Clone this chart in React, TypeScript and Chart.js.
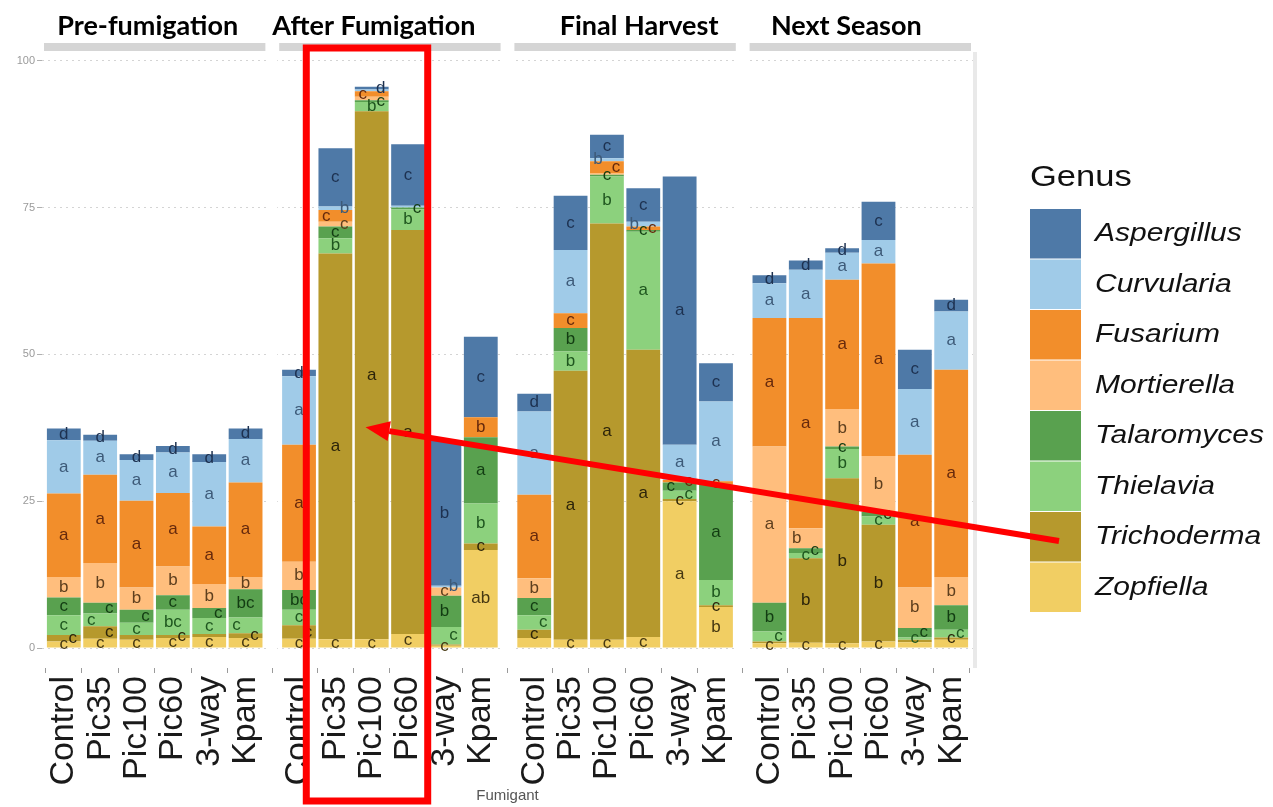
import React, { useEffect, useRef } from "react";
import { Chart, registerables } from "chart.js";

Chart.register(...registerables);

// ---- data -------------------------------------------------------------
const phases = ["Pre-fumigation", "After Fumigation", "Final Harvest", "Next Season"];
const fumigants = ["Control", "Pic35", "Pic100", "Pic60", "3-way", "Kpam"];
const genera = [
  "Aspergillus",
  "Curvularia",
  "Fusarium",
  "Mortierella",
  "Talaromyces",
  "Thielavia",
  "Trichoderma",
  "Zopfiella",
];
const genusColors = [
  "#4e79a7",
  "#a0cbe8",
  "#f28e2b",
  "#ffbe7d",
  "#59a14f",
  "#8cd17d",
  "#b6992d",
  "#f1ce63",
];
const letterColors = [
  "#1d3150",
  "#3d5a78",
  "#66290c",
  "#5e3f1e",
  "#123c12",
  "#1f571f",
  "#2c240a",
  "#463812",
];
const yTickValues = [0, 25, 50, 75, 100];

// relative abundance (%), bars ordered phase by phase: Control, Pic35, Pic100, Pic60, 3-way, Kpam
const aspergillus = [2, 1, 1, 1.1, 1.3, 1.8, 1.1, 9.9, 0.5, 10.5, 24.7, 13.7, 3, 9.2, 4, 5.7, 45.7, 6.5, 1.4, 1.6, 0.8, 6.5, 6.7, 2];
const curvularia = [9.1, 5.8, 6.9, 6.9, 11, 7.4, 11.7, 0.6, 0.3, 0.3, 0.3, 0, 14.2, 10.8, 0.5, 0.8, 6, 13.6, 5.9, 8.2, 4.6, 4, 11.2, 9.9];
const fusarium = [14.2, 15, 14.8, 12.5, 9.8, 16.1, 19.9, 2, 0.9, 0, 0, 3.4, 14.2, 2.5, 2, 0.6, 0.4, 0.6, 21.9, 35.8, 22, 32.8, 22.6, 35.3];
const mortierella = [3.5, 6.8, 3.8, 4.9, 4.1, 2.1, 4.8, 0.8, 0.6, 0, 1.4, 0, 3.4, 0, 0.3, 0, 0, 0, 26.6, 3.4, 6.4, 9.5, 6.9, 4.8];
const talaromyces = [3, 1.8, 2.2, 2.5, 1.7, 4.8, 3.4, 2, 0.3, 0.3, 5.3, 11.3, 2.9, 4, 0.3, 0.3, 1.4, 16.2, 4.9, 0.8, 0.4, 0.8, 1.6, 4.2];
const thielavia = [3.4, 2.2, 2.1, 4.3, 2.7, 2.7, 2.6, 2.6, 1.6, 3.5, 3, 6.8, 2.5, 3.3, 8, 20.1, 1.4, 4.3, 1.7, 0.9, 5, 1.4, 0.4, 1.3];
const trichoderma = [1.1, 2.1, 0.8, 0.5, 0.5, 0.8, 2.3, 65.7, 89.9, 68.8, 0.2, 1.1, 1.4, 45.8, 70.9, 48.9, 0.4, 0.3, 0.3, 14.4, 28.1, 19.9, 0.4, 0.4];
const zopfiella = [1.1, 1.6, 1.4, 1.7, 1.9, 1.7, 1.6, 1.5, 1.5, 2.4, 0.4, 16.7, 1.7, 1.4, 1.4, 1.9, 25, 7, 0.8, 0.9, 0.8, 1.1, 1, 1.4];

// significance letters, same bar order
const aspergillusLetters = ["d", "d", "d", "d", "d", "d", "d", "c", "d", "c", "b", "c", "d", "c", "c", "c", "a", "c", "d", "d", "d", "c", "c", "d"];
const curvulariaLetters = ["a", "a", "a", "a", "a", "a", "a", "b", "", "", "b", "", "a", "a", "b", "b", "a", "a", "a", "a", "a", "a", "a", "a"];
const fusariumLetters = ["a", "a", "a", "a", "a", "a", "a", "c", "c", "", "", "b", "a", "c", "c", "c", "c", "c", "a", "a", "a", "a", "a", "a"];
const mortierellaLetters = ["b", "b", "b", "b", "b", "b", "b", "c", "", "", "c", "", "b", "", "", "", "", "", "a", "b", "b", "b", "b", "b"];
const talaromycesLetters = ["c", "c", "c", "c", "c", "bc", "bc", "c", "c", "c", "b", "a", "c", "b", "c", "c", "c", "a", "b", "c", "c", "c", "c", "b"];
const thielaviaLetters = ["c", "c", "c", "bc", "c", "c", "c", "b", "b", "b", "c", "b", "c", "b", "b", "a", "c", "b", "c", "c", "b", "c", "c", "c"];
const trichodermaLetters = ["c", "c", "", "c", "", "c", "c", "a", "a", "a", "", "c", "c", "a", "a", "a", "c", "c", "", "b", "b", "b", "", "c"];
const zopfiellaLetters = ["c", "c", "c", "c", "c", "c", "c", "c", "c", "c", "c", "ab", "", "c", "c", "c", "a", "b", "c", "c", "c", "c", "", ""];

const seriesValues = [aspergillus, curvularia, fusarium, mortierella, talaromyces, thielavia, trichoderma, zopfiella];
const seriesLetters = [
  aspergillusLetters,
  curvulariaLetters,
  fusariumLetters,
  mortierellaLetters,
  talaromycesLetters,
  thielaviaLetters,
  trichodermaLetters,
  zopfiellaLetters,
];

// ---- facet geometry (in x-axis units) ---------------------------------
const PANEL_SPAN = 6.2; // six bars plus 0.6 expansion each side
const PANEL_EXPAND = 0.6;
const PANEL_GAP = 0.27;
const panelStart = (p: number) => p * (PANEL_SPAN + PANEL_GAP);
const X_MAX = panelStart(phases.length - 1) + PANEL_SPAN;
const barPosition = (k: number) => panelStart(Math.floor(k / fumigants.length)) + PANEL_EXPAND + (k % fumigants.length);
const titleShift = [-7, -16, 14, -14];

const SANS = '"Liberation Sans", Arial, sans-serif';

function drawFacets(chart: any) {
  const { ctx, chartArea } = chart;
  const x = chart.scales.x;
  ctx.save();
  // break the grid between panels
  ctx.fillStyle = "#ffffff";
  for (let p = 0; p < phases.length - 1; p++) {
    const r = x.getPixelForValue(panelStart(p) + PANEL_SPAN);
    const l = x.getPixelForValue(panelStart(p + 1));
    ctx.fillRect(r, chartArea.top - 10, l - r, chartArea.bottom - chartArea.top + 10);
  }
  // thin strip above each panel and its title
  for (let p = 0; p < phases.length; p++) {
    const l = x.getPixelForValue(panelStart(p));
    const r = x.getPixelForValue(panelStart(p) + PANEL_SPAN);
    ctx.fillStyle = "#d5d5d5";
    ctx.fillRect(l + 2, chartArea.top - 9, r - l - 4, 8);
    ctx.fillStyle = "#000000";
    ctx.font = 'bold 27px Lato, "Open Sans", sans-serif';
    ctx.textAlign = "center";
    ctx.textBaseline = "alphabetic";
    ctx.fillText(phases[p], (l + r) / 2 + titleShift[p], 35);
  }
  // faint right border of the last panel
  ctx.fillStyle = "#e9e9e9";
  ctx.fillRect(chartArea.right, chartArea.top, 4, chartArea.bottom - chartArea.top);
  ctx.restore();
}

function drawLetters(chart: any) {
  const { ctx } = chart;
  const nBars = fumigants.length * phases.length;
  ctx.save();
  ctx.font = `17px ${SANS}`;
  ctx.textAlign = "center";
  ctx.textBaseline = "middle";
  for (let k = 0; k < nBars; k++) {
    let lastY = Infinity;
    let lastShift = 0;
    // datasets are stacked bottom-up
    chart.data.datasets.forEach((ds: any, d: number) => {
      const gi = ds.genusIndex;
      const letter = seriesLetters[gi][k];
      if (!letter) return;
      const el = chart.getDatasetMeta(d).data[k];
      const cy = (el.y + el.base) / 2;
      let shift = 0;
      if (Math.abs(cy - lastY) < 13) shift = lastShift > 0 ? -9 : 9;
      ctx.fillStyle = letterColors[gi];
      ctx.fillText(letter, el.x + shift, cy);
      lastY = cy;
      lastShift = shift;
    });
  }
  ctx.restore();
}

const LEGEND = { x: 1030, top: 209, key: 50.5, keyWidth: 51 };

function drawLegend(chart: any) {
  const { ctx } = chart;
  ctx.save();
  ctx.fillStyle = "#111111";
  ctx.textBaseline = "middle";
  ctx.textAlign = "left";
  ctx.save();
  ctx.translate(LEGEND.x, 178);
  ctx.scale(1.15, 1);
  ctx.font = `30px ${SANS}`;
  ctx.fillText("Genus", 0, 0);
  ctx.restore();
  genera.forEach((g, i) => {
    const y = LEGEND.top + i * LEGEND.key;
    ctx.fillStyle = genusColors[i];
    ctx.fillRect(LEGEND.x, y, LEGEND.keyWidth, LEGEND.key - 1);
    ctx.fillStyle = "#111111";
    ctx.save();
    ctx.translate(LEGEND.x + 65, y + LEGEND.key / 2);
    ctx.scale(1.2, 1);
    ctx.font = `italic 25px ${SANS}`;
    ctx.fillText(g, 0, 0);
    ctx.restore();
  });
  ctx.restore();
}

function drawCallout(chart: any) {
  const { ctx } = chart;
  const x = chart.scales.x;
  const y = chart.scales.y;
  ctx.save();
  ctx.strokeStyle = "#ff0000";
  ctx.fillStyle = "#ff0000";
  // box around the Pic35, Pic100 and Pic60 bars after fumigation
  const left = x.getPixelForValue(barPosition(7) - 0.8);
  const right = x.getPixelForValue(barPosition(9) + 0.54);
  ctx.lineWidth = 7;
  ctx.strokeRect(left, 48, right - left, 753);
  // arrow from the Trichoderma key to the Pic100 bar
  const tri = genera.indexOf("Trichoderma");
  const tailX = LEGEND.x + 29;
  const tailY = LEGEND.top + tri * LEGEND.key + 29;
  const tipX = x.getPixelForValue(barPosition(8) - 0.17);
  const tipY = y.getPixelForValue(37.6);
  const ang = Math.atan2(tipY - tailY, tipX - tailX);
  const headLen = 24;
  const headHalf = 10;
  const bx = tipX - headLen * Math.cos(ang);
  const by = tipY - headLen * Math.sin(ang);
  ctx.lineWidth = 6;
  ctx.beginPath();
  ctx.moveTo(tailX, tailY);
  ctx.lineTo(bx, by);
  ctx.stroke();
  ctx.beginPath();
  ctx.moveTo(tipX, tipY);
  ctx.lineTo(bx + headHalf * Math.sin(ang), by - headHalf * Math.cos(ang));
  ctx.lineTo(bx - headHalf * Math.sin(ang), by + headHalf * Math.cos(ang));
  ctx.closePath();
  ctx.fill();
  ctx.restore();
}

const facetPlugin = {
  id: "facetDecor",
  beforeDatasetsDraw(chart: any) {
    drawFacets(chart);
  },
  afterDatasetsDraw(chart: any) {
    drawLetters(chart);
    drawLegend(chart);
    drawCallout(chart);
  },
};

export default function App() {
  const canvasRef = useRef<HTMLCanvasElement>(null);

  useEffect(() => {
    const canvas = canvasRef.current;
    if (!canvas) return;
    const nBars = fumigants.length * phases.length;
    const xs = Array.from({ length: nBars }, (_, k) => barPosition(k));
    // bottom of the stack first
    const stackOrder = genera.map((_, i) => i).reverse();
    const datasets = stackOrder.map((gi) => ({
      label: genera[gi],
      genusIndex: gi,
      data: seriesValues[gi].map((v, k) => ({ x: xs[k], y: v })),
      backgroundColor: genusColors[gi],
      borderWidth: 0,
      barPercentage: 0.93,
      categoryPercentage: 1,
    }));

    const chart = new Chart(canvas, {
      type: "bar",
      data: { datasets } as any,
      options: {
        animation: false,
        responsive: false,
        devicePixelRatio: 1,
        layout: { padding: { left: 0, right: 300, top: 52, bottom: 0 } },
        plugins: { legend: { display: false }, tooltip: { enabled: false } },
        scales: {
          x: {
            type: "linear",
            stacked: true,
            min: 0,
            max: X_MAX,
            bounds: "data",
            offset: false,
            afterBuildTicks: (scale: any) => {
              scale.ticks = xs.map((v) => ({ value: v }));
            },
            afterFit: (scale: any) => {
              scale.height = 139;
            },
            ticks: {
              autoSkip: false,
              minRotation: 90,
              maxRotation: 90,
              padding: 3,
              color: "#1a1a1a",
              font: { family: SANS, size: 34 },
              callback: (_v: any, i: number) => fumigants[i % fumigants.length],
            },
            grid: { drawOnChartArea: false, drawTicks: true, tickLength: 5, tickColor: "#9a9a9a" },
            border: { display: false },
            title: {
              display: true,
              text: "Fumigant",
              color: "#555555",
              font: { family: SANS, size: 15 },
              padding: { top: 0, bottom: 2 },
            },
          },
          y: {
            type: "linear",
            stacked: true,
            min: -3.4,
            max: 101.5,
            bounds: "data",
            afterBuildTicks: (scale: any) => {
              scale.ticks = yTickValues.map((v) => ({ value: v }));
            },
            afterFit: (scale: any) => {
              scale.width = 42;
            },
            ticks: {
              padding: 2,
              color: "#9a9a9a",
              font: { family: SANS, size: 11 },
            },
            grid: { color: "#d4d4d4", lineWidth: 1, tickLength: 5, tickColor: "#b0b0b0" },
            border: { display: false, dash: [2, 4] },
          },
        },
      } as any,
      plugins: [facetPlugin],
    });

    return () => chart.destroy();
  }, []);

  return (
    <div style={{ position: "fixed", left: 0, top: 0, width: 1273, height: 807, background: "#ffffff" }}>
      <canvas ref={canvasRef} width={1273} height={807} style={{ display: "block" }} />
    </div>
  );
}
